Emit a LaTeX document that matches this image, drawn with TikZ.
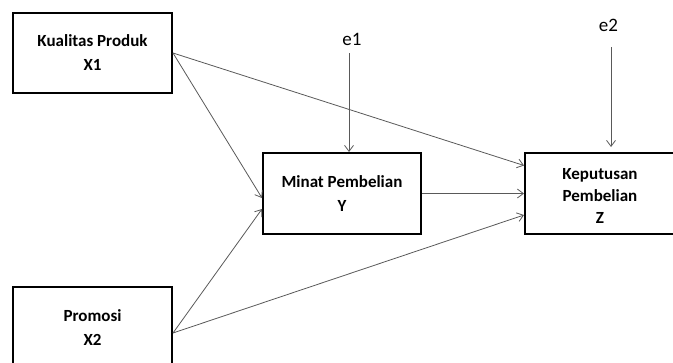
\documentclass[tikz,border=0pt]{standalone}
\usepackage{fontspec}
\setmainfont{Carlito}
\usetikzlibrary{arrows.meta,calc}
\begin{document}
\begin{tikzpicture}[x=1pt,y=-1pt,
  box/.style={draw=black,line width=2pt,fill=white,inner sep=0pt,align=center,
    font=\fontsize{17}{24}\selectfont\bfseries},
  conn/.style={draw=black!65,line width=0.8pt,-{Straight Barb[length=6pt,width=9pt]}},
  err/.style={font=\fontsize{19}{22}\selectfont,inner sep=0pt}]
\useasboundingbox (0,0) rectangle (673,362);
\clip (0,0) rectangle (673,362);
\node[box,minimum width=159pt,minimum height=80pt] (X1) at (92.5,53) {Kualitas Produk\\X1};
\node[box,minimum width=159pt,minimum height=82pt] (X2) at (92.5,328) {Promosi\\X2};
\node[box,minimum width=158pt,minimum height=81pt] (Y) at (342,193.5) {Minat Pembelian\\Y};
\node[box,align=none,font=\fontsize{17}{22}\selectfont\bfseries,minimum width=170pt,minimum height=81pt] (Z) at (610,193.5)
  {\raisebox{0pt}[\dimexpr\height+8pt\relax]{\begin{tabular}{@{}c@{}}Keputusan\\Pembelian\\Z\end{tabular}}\hspace*{20pt}};
\node[err] (e1) at (352,39) {e1};
\node[err] (e2) at (608.5,25) {e2};
\coordinate (e1s) at (349,53);
\coordinate (e2s) at (611,47);
\coordinate (X1o) at (X1.east);
\coordinate (X2o) at ([yshift=-5pt]X2.east);
\draw[conn] (X1o) -- ([yshift=28pt]Z.west);
\draw[conn] (X1o) -- ([yshift=-4.5pt]Y.west);
\draw[conn] (X2o) -- ([yshift=-15.5pt]Y.west);
\draw[conn] (X2o) -- ([yshift=-21.5pt]Z.west);
\draw[conn] (Y.east) -- (Z.west);
\draw[conn] (e1s) -- (e1s |- Y.north);
\draw[conn] (e2s) -- ([yshift=5pt]e2s |- Z.north);
\end{tikzpicture}
\end{document}
